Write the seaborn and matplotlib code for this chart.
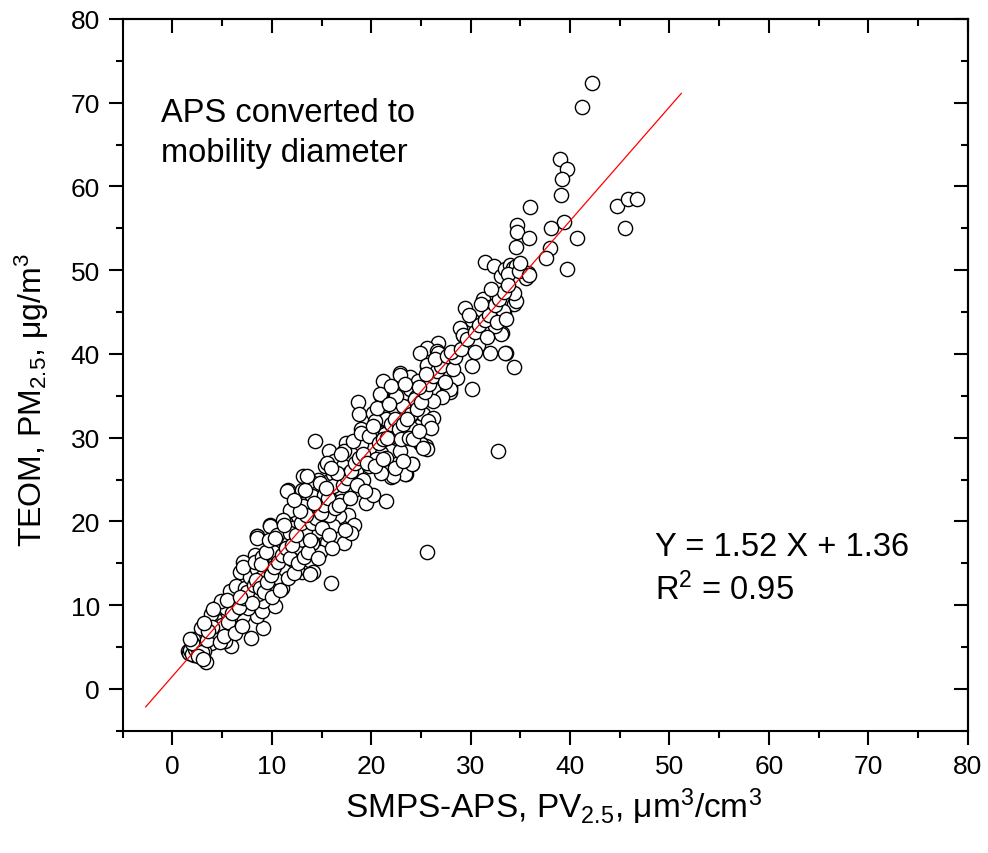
import matplotlib
matplotlib.use("Agg")
import matplotlib.pyplot as plt
from matplotlib.ticker import MultipleLocator
import seaborn as sns
import pandas as pd

# SMPS-APS PV2.5 (x) vs TEOM PM2.5 (y)
pv25 = [
    42.2, 41.2, 39.0, 39.7, 39.2, 39.1, 36.0, 44.7, 45.8, 46.7, 45.5, 39.4, 38.1, 40.7,
    34.7, 34.7, 35.9, 34.6, 38.0, 37.6, 39.7, 33.9, 35.8, 35.6, 34.4, 33.4, 33.2, 33.6, 34.4,
    25.6, 32.7, 30.1, 30.1, 33.5, 31.9, 30.7, 33.1, 29.2, 21.5, 25.5, 24.9, 24.1, 23.5, 22.0,
    31.4, 32.3, 33.1, 29.4, 30.1, 31.2, 31.9, 33.3, 28.9, 29.2, 32.4, 34.6, 34.4,
    26.7, 25.6, 24.9, 26.6, 25.6, 26.7, 27.9, 28.4, 27.9, 22.9, 21.2, 23.9, 24.7, 26.2,
    25.9, 24.4, 23.0, 21.7, 21.0, 18.7, 18.8, 20.2, 21.4, 22.5, 23.9, 25.0, 25.9, 26.9, 27.9,
    14.3, 17.3, 19.5, 23.4, 24.1, 22.2, 20.2, 25.0, 25.6, 25.2, 24.5, 23.2, 20.9, 22.5, 23.9,
    21.5, 20.4, 19.0, 20.5, 21.9, 22.9, 24.0, 22.7, 22.0, 21.0, 19.8, 19.0, 17.5, 17.3, 15.8,
    15.3, 16.3, 17.2, 17.7, 18.5, 19.2, 18.3, 17.5, 16.8, 15.8, 14.6, 13.8, 13.1, 11.6, 13.0,
    14.0, 15.2, 16.0, 17.0, 17.7, 18.3, 16.8, 16.2, 15.3, 14.1, 13.1, 12.6, 11.8, 11.1, 9.8,
    10.5, 12.0, 13.5, 14.6, 15.5, 14.1, 13.0, 11.8, 10.8, 10.0, 8.5, 8.3, 9.5, 11.3, 12.5,
    14.8, 14.1, 13.0, 10.8, 9.1, 7.1, 6.8, 15.7, 16.2, 13.3, 19.8, 20.5, 21.4, 21.0,
    3.4, 2.2, 1.6, 1.9, 2.7, 3.9, 3.2, 2.1, 2.9, 4.1, 4.8, 5.9, 5.3, 6.1, 6.4, 7.9, 9.1,
    8.5, 7.1, 5.4, 4.3, 3.9, 4.4, 5.4, 6.4, 7.6, 9.0, 10.3, 9.1, 7.8, 6.1, 4.9, 4.1, 5.8,
    6.4, 7.3, 8.6, 9.6, 11.0, 10.5, 9.1, 7.8, 7.1, 8.5, 9.0, 9.8, 11.3, 12.5, 13.8, 16.0,
    8.3, 9.0, 10.1, 11.5, 12.8, 14.0, 12.6, 12.1, 11.1, 9.8, 8.5, 10.5, 11.8, 13.3,
    11.5, 8.5, 13.5, 14.8, 15.5, 16.2,
    26.7, 25.6, 22.9, 27.9, 28.6, 27.9, 26.2, 27.1, 26.2, 25.2, 24.5, 24.0, 26.2, 25.7,
    21.4, 22.9, 21.5,
    33.5, 34.0, 34.3, 34.6, 33.8, 34.9, 35.0, 35.9,
    1.7, 1.8, 2.0, 2.3, 2.5, 2.0, 3.0, 3.5, 2.6, 3.1, 1.8,
    4.5, 5.0, 5.6, 6.0, 6.7, 7.2, 7.5, 8.0, 8.2, 4.8, 5.2, 6.3, 7.0, 5.5, 6.8, 4.0, 3.6, 3.2,
    8.4, 8.8, 9.2, 9.5, 9.9, 10.2, 10.6, 11.0, 11.4, 11.8, 12.0, 8.9, 9.4, 10.0, 10.8, 11.6,
    12.2, 9.7, 10.3, 11.2, 12.4, 12.9,
    12.6, 13.2, 13.6, 14.0, 14.4, 14.9, 15.2, 15.6, 13.4, 12.8, 14.2, 15.0, 15.8, 13.8, 12.2,
    15.4, 14.6, 16.1,
    16.4, 16.8, 17.2, 17.6, 18.0, 18.4, 18.8, 19.2, 19.6, 16.6, 17.9, 18.6, 19.4, 16.0, 17.0,
    18.2, 19.0, 19.8, 20.2, 18.0, 17.4,
    20.4, 20.8, 21.2, 21.6, 22.0, 22.4, 22.8, 23.2, 23.6, 20.6, 21.8, 23.0, 23.8, 24.2, 21.2,
    22.4, 23.2, 24.4, 22.0, 23.4,
    24.6, 25.0, 25.4, 25.8, 26.2, 26.6, 27.0, 24.8, 25.5, 26.4, 27.4, 27.6, 26.0, 24.8, 25.2,
    28.2, 28.4, 28.0,
    29.0, 29.6, 30.4, 30.8, 31.4, 31.8, 32.4, 32.8, 33.4, 33.8, 29.8, 31.0, 32.0, 30.4, 31.6,
    32.6, 33.6,
]
pm25 = [
    72.4, 69.5, 63.3, 62.1, 60.9, 59.0, 57.5, 57.7, 58.5, 58.5, 55.0, 55.8, 55.0, 53.8,
    55.4, 54.6, 53.8, 52.8, 52.6, 51.5, 50.2, 50.4, 49.7, 49.1, 46.0, 44.9, 42.5, 40.1, 38.4,
    16.3, 28.4, 38.5, 35.8, 40.1, 40.1, 41.1, 42.4, 42.3, 22.4, 29.0, 29.4, 26.8, 25.6, 25.3,
    51.0, 50.5, 49.3, 45.5, 44.1, 46.5, 45.6, 45.1, 43.1, 42.2, 43.3, 46.3, 47.3,
    41.3, 40.7, 40.1, 40.3, 38.5, 39.0, 37.3, 37.2, 36.0, 37.7, 36.8, 37.3, 36.8, 36.2,
    34.6, 35.0, 34.8, 35.2, 35.0, 34.2, 32.8, 33.0, 32.2, 33.0, 32.6, 33.0, 32.0, 35.0, 35.5,
    29.6, 17.4, 22.2, 25.6, 26.9, 25.4, 23.2, 29.2, 28.6, 32.8, 33.4, 33.8, 35.2, 35.0, 35.8,
    32.2, 32.0, 31.0, 30.8, 30.6, 30.4, 31.2, 28.6, 28.4, 28.2, 28.8, 29.2, 29.4, 28.4, 28.4,
    26.6, 27.2, 26.6, 25.6, 26.0, 25.0, 23.8, 23.8, 23.2, 24.8, 25.0, 24.8, 25.4, 23.8, 23.8,
    23.0, 23.2, 22.6, 22.4, 20.8, 19.6, 20.6, 19.4, 21.0, 21.8, 21.8, 20.6, 21.4, 20.2, 19.6,
    18.6, 19.2, 18.6, 18.8, 17.4, 17.4, 17.0, 17.4, 16.6, 17.0, 18.2, 16.0, 15.4, 15.4, 16.2,
    16.4, 13.9, 13.9, 14.3, 14.1, 15.2, 13.9, 20.8, 25.6, 23.8, 26.6, 27.4, 27.0, 25.8,
    3.2, 4.1, 4.5, 4.9, 5.1, 5.5, 4.5, 5.9, 7.3, 6.5, 7.3, 5.1, 5.7, 7.9, 7.3, 6.1, 7.3,
    8.7, 8.7, 8.5, 8.3, 8.9, 9.7, 9.7, 9.5, 9.7, 9.3, 9.9, 10.5, 10.5, 10.7, 10.5, 9.5, 11.7,
    12.3, 12.1, 11.3, 12.3, 12.1, 13.3, 13.3, 13.3, 14.5, 14.3, 13.3, 14.3, 14.3, 14.3, 13.7, 12.7,
    15.2, 15.8, 16.4, 17.4, 17.8, 17.4, 16.2, 15.4, 15.8, 19.4, 18.2, 18.4, 18.6, 19.0,
    23.6, 18.0, 25.4, 24.6, 27.0, 24.2,
    40.1, 38.7, 37.5, 37.5, 37.1, 35.8, 35.8, 34.8, 34.4, 35.4, 34.8, 32.8, 32.4, 32.0,
    30.4, 28.4, 27.6,
    50.2, 50.6, 50.3, 50.5, 49.6, 49.9, 50.8, 49.4,
    4.3, 4.6, 4.2, 4.8, 5.0, 5.5, 4.4, 5.8, 3.9, 3.6, 5.9,
    6.8, 7.6, 8.0, 9.0, 9.8, 10.8, 11.6, 10.2, 12.4, 5.6, 6.3, 6.7, 7.5, 10.6, 11.0, 7.4, 6.9, 7.9,
    13.0, 12.0, 11.6, 12.8, 13.6, 14.6, 15.2, 16.0, 16.8, 15.6, 17.2, 14.9, 16.4, 11.0, 11.8, 13.2,
    13.8, 17.8, 18.0, 19.6, 18.4, 19.8,
    15.0, 15.8, 16.4, 19.8, 20.4, 21.0, 22.0, 22.8, 20.8, 21.2, 22.2, 19.2, 18.4, 17.8, 22.6,
    24.0, 15.6, 16.8,
    21.6, 22.0, 24.4, 25.2, 26.0, 27.0, 27.6, 28.0, 27.0, 25.8, 22.8, 24.4, 23.6, 26.4, 28.0,
    29.6, 30.6, 30.2, 31.4, 18.6, 19.0,
    26.6, 29.4, 29.8, 30.0, 31.6, 32.2, 31.0, 31.6, 32.2, 33.6, 34.0, 29.8, 30.0, 29.8, 27.4,
    26.4, 27.2, 34.6, 36.2, 36.4,
    33.4, 34.2, 35.4, 36.4, 37.4, 38.0, 38.6, 36.0, 37.6, 39.4, 36.6, 39.8, 31.2, 30.8, 28.8,
    38.2, 39.6, 40.2,
    40.6, 41.8, 42.6, 43.4, 44.0, 44.6, 45.8, 46.6, 47.4, 48.2, 44.6, 46.0, 47.8, 40.2, 42.0,
    43.8, 44.2,
]

# regression line as drawn in the figure
fit_x = [-2.7, 51.2]
fit_slope = 1.36
fit_intercept = 1.5

df = pd.DataFrame({"pv": pv25, "pm": pm25})
df_fit = pd.DataFrame({"x": fit_x})
df_fit["y"] = fit_slope * df_fit["x"] + fit_intercept

sns.set_style("ticks")
plt.rcParams['font.family'] = ['Liberation Sans', 'DejaVu Sans']
plt.rcParams['mathtext.default'] = 'regular'
for key in ['text.color', 'axes.labelcolor', 'xtick.color', 'ytick.color', 'axes.edgecolor']:
    plt.rcParams[key] = 'black'

fig = plt.figure(figsize=(9.88, 8.54), dpi=100)
ax = fig.add_axes([0.1242, 0.1432, 0.8553, 0.8334])

sns.scatterplot(data=df, x="pv", y="pm", ax=ax, s=105, marker="o",
                facecolor="white", edgecolor="black", linewidth=1.0, zorder=2)
sns.lineplot(data=df_fit, x="x", y="y", ax=ax, color="red", linewidth=0.9, zorder=3)

ax.set_xlim(-5, 80)
ax.set_ylim(-5, 80)
ax.xaxis.set_major_locator(MultipleLocator(10))
ax.xaxis.set_minor_locator(MultipleLocator(5))
ax.yaxis.set_major_locator(MultipleLocator(10))
ax.yaxis.set_minor_locator(MultipleLocator(5))
ax.tick_params(which="major", direction="out", length=10, width=1.5, labelsize=19, pad=6.5)
ax.tick_params(which="minor", direction="out", length=5, width=1.5)
for sp in ax.spines.values():
    sp.set_linewidth(1.5)
    sp.set_visible(True)

# inward ticks on top and right, no labels
top = ax.secondary_xaxis("top")
right = ax.secondary_yaxis("right")
top.xaxis.set_major_locator(MultipleLocator(10))
top.xaxis.set_minor_locator(MultipleLocator(5))
right.yaxis.set_major_locator(MultipleLocator(10))
right.yaxis.set_minor_locator(MultipleLocator(5))
top.tick_params(which="major", direction="in", length=10, width=1.5, labeltop=False)
top.tick_params(which="minor", direction="in", length=5, width=1.5)
right.tick_params(which="major", direction="in", length=10, width=1.5, labelright=False)
right.tick_params(which="minor", direction="in", length=5, width=1.5)
top.spines["top"].set_linewidth(1.5)
right.spines["right"].set_linewidth(1.5)

ax.set_xlabel("SMPS-APS, PV$_{2.5}$, μm$^3$/cm$^3$", fontsize=24, labelpad=6)
ax.set_ylabel("TEOM, PM$_{2.5}$, μg/m$^3$", fontsize=23, labelpad=14)
ax.xaxis.label.set_x(0.51)
ax.yaxis.label.set_y(0.466)

ax.text(-1.1, 67.8, "APS converted to", fontsize=23.5, va="baseline", ha="left")
ax.text(-1.1, 63.0, "mobility diameter", fontsize=23.5, va="baseline", ha="left")
ax.text(48.5, 16.0, "Y = 1.52 X + 1.36", fontsize=23.5, va="baseline", ha="left")
ax.text(48.5, 10.7, "R$^2$ = 0.95", fontsize=23.5, va="baseline", ha="left")

fig.savefig("out.png", dpi=100)
